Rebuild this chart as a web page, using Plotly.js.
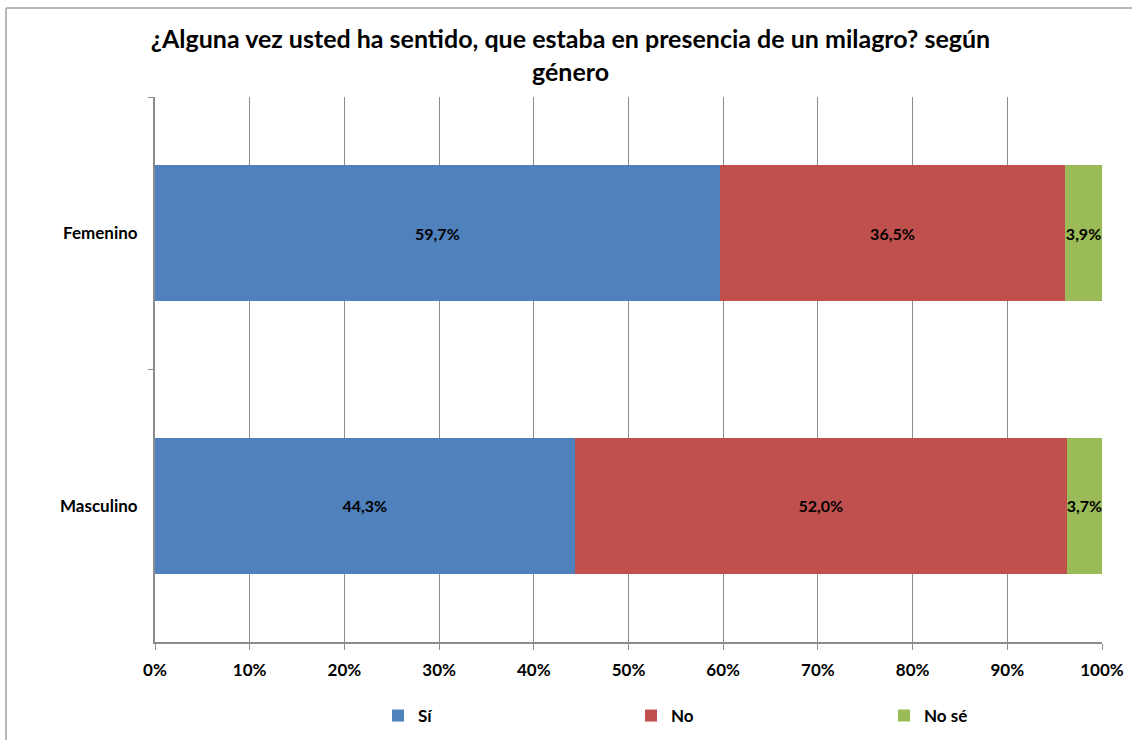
<!DOCTYPE html>
<html>
<head>
<meta charset="utf-8">
<script src="https://cdn.plot.ly/plotly-3.0.1.min.js"></script>
<style>
  html, body { margin: 0; padding: 0; background: #fff; overflow: hidden; }
  #chart { width: 1132px; height: 740px; }
</style>
</head>
<body>
<div id="chart"></div>
<script>
const categories = ['Femenino', 'Masculino'];
const seriesNames = ['Sí', 'No', 'No sé'];
const valuesSi = [59.7, 44.3];
const valuesNo = [36.5, 52.0];
const valuesNoSe = [3.9, 3.7];
const tickVals = [0, 10, 20, 30, 40, 50, 60, 70, 80, 90, 100];
const tickText = ['0%', '10%', '20%', '30%', '40%', '50%', '60%', '70%', '80%', '90%', '100%'];
const colors = ['#4F81BD', '#C0504D', '#9BBB59'];

const FONT = 'Lato, "Open Sans", sans-serif';
const fmt = v => v.toFixed(1).replace('.', ',') + '%';

const W = 1132, H = 740;
const M = { l: 155, r: 30, t: 97, b: 98 };
const pw = W - M.l - M.r, ph = H - M.t - M.b;

const allValues = [valuesSi, valuesNo, valuesNoSe];
const traces = allValues.map((vals, i) => ({
  type: 'bar',
  orientation: 'h',
  name: seriesNames[i],
  y: categories,
  x: vals,
  text: vals.map(fmt),
  textposition: 'inside',
  insidetextanchor: 'middle',
  constraintext: 'none',
  textangle: 0,
  textfont: { family: FONT, size: 16, color: '#000', weight: 'bold' },
  marker: { color: colors[i], line: { width: 0 } },
  hoverinfo: 'skip'
}));

const frameLeft = (6 - M.l) / pw;
const frameTop = 1 + (M.t - 8) / ph;

const layout = {
  width: W,
  height: H,
  paper_bgcolor: '#fff',
  plot_bgcolor: '#fff',
  barmode: 'stack',
  barnorm: 'percent',
  bargap: 0.5,
  margin: M,
  font: { family: FONT, color: '#000' },
  title: {
    text: '¿Alguna vez usted ha sentido, que estaba en presencia de un milagro? según<br>género',
    font: { family: FONT, size: 25, weight: 'bold', color: '#000' },
    x: 0.504, xanchor: 'center', xref: 'container',
    y: 1 - 48 / 740, yanchor: 'top', yref: 'container'
  },
  xaxis: {
    range: [0, 100],
    tickvals: tickVals,
    ticktext: tickText,
    showgrid: true,
    gridcolor: '#8c8c8c',
    gridwidth: 1,
    zeroline: false,
    showline: true,
    linecolor: '#8c8c8c',
    linewidth: 2,
    ticks: 'outside',
    ticklen: 6,
    tickcolor: '#8c8c8c',
    tickfont: { family: FONT, size: 17, weight: 'bold', color: '#000' },
    ticklabelstandoff: 6,
    fixedrange: true
  },
  yaxis: {
    type: 'category',
    categoryorder: 'array',
    categoryarray: categories,
    autorange: 'reversed',
    showgrid: false,
    zeroline: false,
    showline: true,
    linecolor: '#8c8c8c',
    linewidth: 2,
    ticks: 'outside',
    tickson: 'boundaries',
    ticklen: 5,
    tickcolor: '#8c8c8c',
    tickfont: { family: FONT, size: 17, weight: 'bold', color: '#000' },
    ticklabelstandoff: 12,
    fixedrange: true
  },
  shapes: [
    { type: 'line', xref: 'paper', yref: 'paper', x0: frameLeft, x1: frameLeft, y0: -1, y1: frameTop,
      line: { color: '#b8b8b8', width: 2 } },
    { type: 'line', xref: 'paper', yref: 'paper', x0: frameLeft, x1: 2, y0: frameTop, y1: frameTop,
      line: { color: '#b8b8b8', width: 2 } }
  ],
  showlegend: true,
  legend: {
    orientation: 'h',
    xref: 'container', yref: 'container',
    x: 378 / 1132, xanchor: 'left',
    y: 1 - 716 / 740, yanchor: 'middle',
    entrywidth: 208, entrywidthmode: 'pixels',
    font: { family: FONT, size: 17, weight: 'bold', color: '#000' },
    traceorder: 'normal',
    bgcolor: 'rgba(0,0,0,0)'
  },
  hovermode: false
};

Plotly.newPlot('chart', traces, layout, { displayModeBar: false, staticPlot: true });
</script>
</body>
</html>
